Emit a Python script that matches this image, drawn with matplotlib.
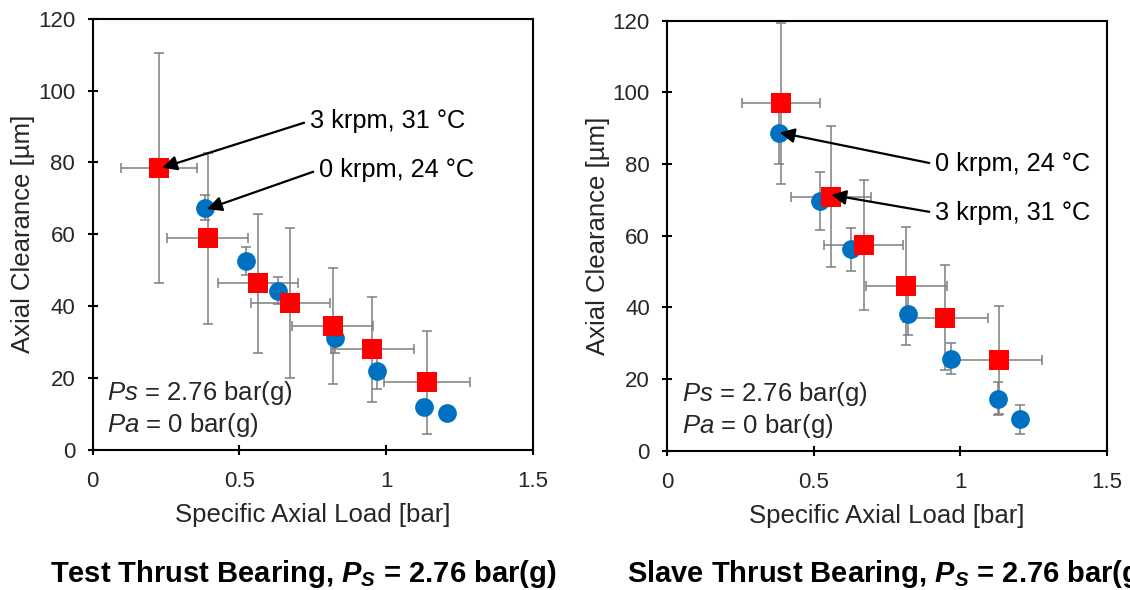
import matplotlib
matplotlib.use("Agg")
import matplotlib.pyplot as plt

plt.rcParams['font.family'] = ['Liberation Sans', 'DejaVu Sans']
plt.rcParams['mathtext.fontset'] = 'custom'
plt.rcParams['mathtext.rm'] = 'Liberation Sans'
plt.rcParams['mathtext.it'] = 'Liberation Sans:italic'
plt.rcParams['mathtext.bf'] = 'Liberation Sans:bold'
plt.rcParams['mathtext.bfit'] = 'Liberation Sans:italic:bold'

# Test thrust bearing
test_red_x = [0.227, 0.392, 0.563, 0.674, 0.818, 0.953, 1.140]
test_red_y = [78.5, 58.8, 46.3, 40.7, 34.4, 27.9, 18.7]
test_red_xerr = [0.130, 0.137, 0.135, 0.133, 0.138, 0.142, 0.146]
test_red_yerr = [32.0, 23.9, 19.4, 20.9, 16.1, 14.7, 14.3]
test_blue_x = [0.382, 0.521, 0.632, 0.824, 0.967, 1.129, 1.208]
test_blue_y = [67.4, 52.5, 44.2, 31.0, 21.9, 11.9, 10.1]
test_blue_yerr = [3.5, 3.8, 3.8, 4.0, 5.0, 2.0, 1.5]

# Slave thrust bearing
slave_red_x = [0.388, 0.558, 0.671, 0.816, 0.949, 1.134]
slave_red_y = [97.0, 70.9, 57.4, 46.0, 37.1, 25.3]
slave_red_xerr = [0.133, 0.136, 0.135, 0.139, 0.145, 0.145]
slave_red_yerr = [22.5, 19.7, 18.1, 16.5, 14.7, 15.2]
slave_blue_x = [0.382, 0.520, 0.626, 0.822, 0.970, 1.129, 1.203]
slave_blue_y = [88.8, 69.7, 56.2, 38.0, 25.7, 14.4, 8.7]
slave_blue_yerr = [8.7, 8.2, 6.0, 5.7, 4.4, 4.6, 4.1]

RED = '#FF0000'
BLUE = '#0070C0'
GREY = '#7F7F7F'
TXT = '#262626'

fig = plt.figure(figsize=(11.3, 5.9), dpi=100)
ax1 = fig.add_axes([0.0819, 0.2381, 0.3898, 0.7302])
ax2 = fig.add_axes([0.5905, 0.2364, 0.3889, 0.7282])


def draw_panel(ax, rx, ry, rxe, rye, bx, by, bye):
    ax.errorbar(bx, by, yerr=bye, fmt='none', ecolor=GREY, elinewidth=1.1, capsize=3.6, capthick=1.1)
    ax.errorbar(rx, ry, xerr=rxe, yerr=rye, fmt='none', ecolor=GREY, elinewidth=1.1, capsize=3.6, capthick=1.1)
    ax.plot(bx, by, 'o', color=BLUE, markersize=13.5, markeredgewidth=0, zorder=3)
    ax.plot(rx, ry, 's', color=RED, markersize=14.5, markeredgewidth=0, zorder=4)

    ax.set_xlim(0, 1.5)
    ax.set_ylim(0, 120)
    ax.set_xticks([0, 0.5, 1, 1.5])
    ax.set_xticklabels(['0', '0.5', '1', '1.5'])
    ax.set_yticks(range(0, 121, 20))
    for s in ax.spines.values():
        s.set_linewidth(1.5)
        s.set_color('black')
    ax.tick_params(axis='both', direction='inout', length=7, width=1.5, labelsize=16, labelcolor=TXT)
    ax.tick_params(axis='x', pad=12)
    ax.tick_params(axis='y', pad=9)
    ax.set_xlabel('Specific Axial Load [bar]', fontsize=18.5, color=TXT)
    ax.set_ylabel('Axial Clearance [µm]', fontsize=18.5, color=TXT)
    ax.xaxis.set_label_coords(0.5, -0.124)
    ax.yaxis.set_label_coords(-0.13, 0.5)

    ax.text(0.05, 15.7, '$Ps$ = 2.76 bar(g)', fontsize=18.5, color=TXT, va='center', ha='left')
    ax.text(0.05, 6.8, '$Pa$ = 0 bar(g)', fontsize=18.5, color=TXT, va='center', ha='left')


def label(ax, text, xy, xytext):
    ax.annotate(text, xy=xy, xytext=xytext, fontsize=18.3, color='black', ha='left', va='center',
                arrowprops=dict(arrowstyle='-|>', color='black', lw=1.6, mutation_scale=22,
                                relpos=(0, 0.5), shrinkA=2, shrinkB=0), zorder=6)


draw_panel(ax1, test_red_x, test_red_y, test_red_xerr, test_red_yerr,
           test_blue_x, test_blue_y, test_blue_yerr)
draw_panel(ax2, slave_red_x, slave_red_y, slave_red_xerr, slave_red_yerr,
           slave_blue_x, slave_blue_y, slave_blue_yerr)

label(ax1, '3 krpm, 31 °C', (test_red_x[0] + 0.01, test_red_y[0]), (0.739, 91.5))
label(ax1, '0 krpm, 24 °C', (test_blue_x[0] + 0.008, test_blue_y[0] - 0.4), (0.77, 77.9))
label(ax2, '0 krpm, 24 °C', (slave_blue_x[0] + 0.002, slave_blue_y[0]), (0.913, 80.0))
label(ax2, '3 krpm, 31 °C', (slave_red_x[1] + 0.002, slave_red_y[1] + 0.5), (0.913, 66.4))

fig.text(50 / 1130, 1 - 582 / 590, r'Test Thrust Bearing, $\mathbfit{P}_\mathbfit{S}$ = 2.76 bar(g)',
         fontsize=21, fontweight='bold', ha='left', va='baseline')
fig.text(627 / 1130, 1 - 582 / 590, r'Slave Thrust Bearing, $\mathbfit{P}_\mathbfit{S}$ = 2.76 bar(g)',
         fontsize=21, fontweight='bold', ha='left', va='baseline')

fig.savefig('out.png', dpi=100)
